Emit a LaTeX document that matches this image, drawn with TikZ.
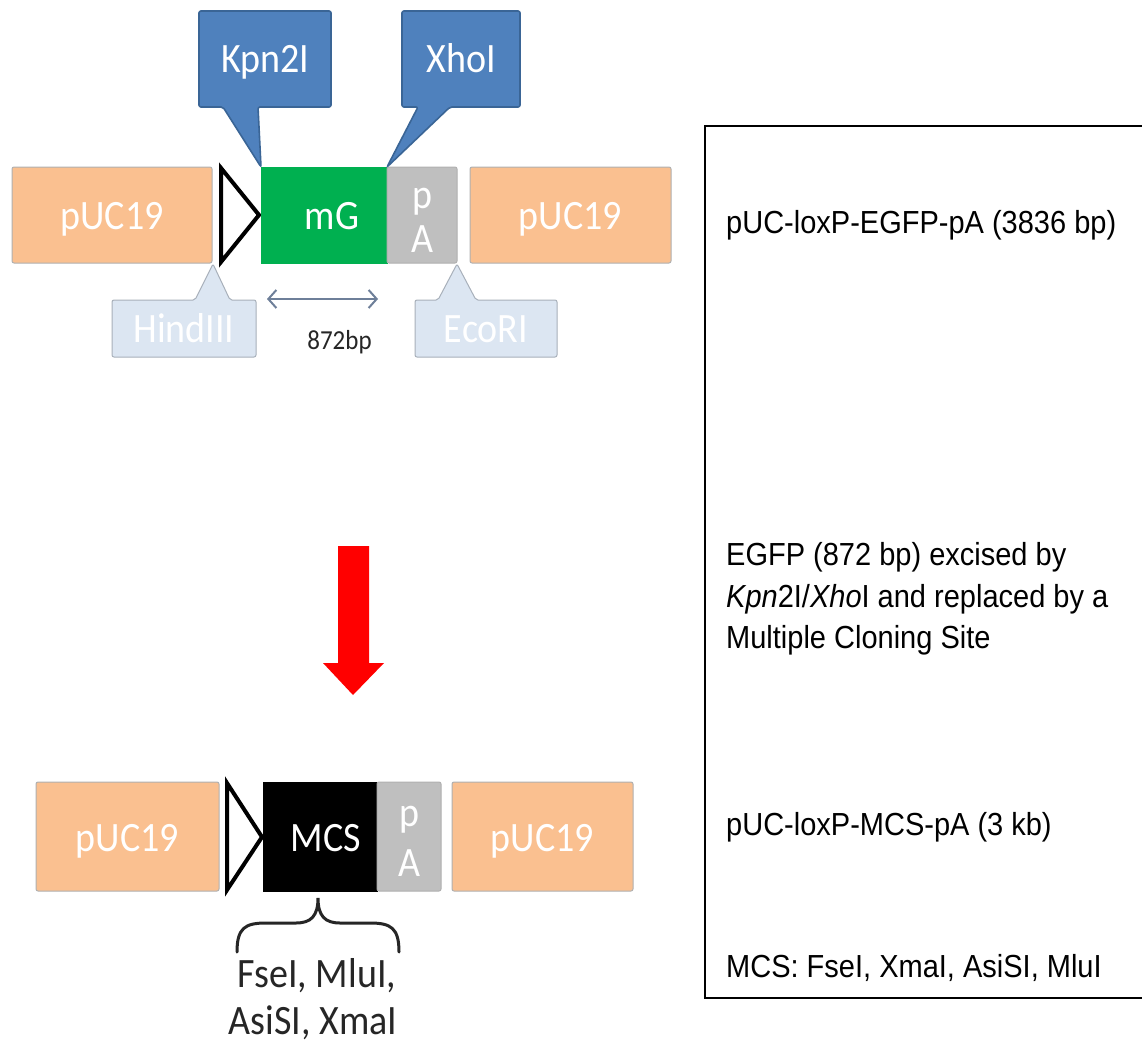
\documentclass[tikz,border=0pt]{standalone}
\usepackage{fontspec}
\usetikzlibrary{arrows.meta}
\newfontfamily\calib{Carlito}
\newfontfamily\arialf{Liberation Sans}
\newcommand{\vstretch}[1]{\scalebox{1}[1.1]{#1}}
\definecolor{pucorange}{HTML}{FAC090}
\definecolor{segline}{HTML}{B0B0B0}
\definecolor{mggreen}{HTML}{00B050}
\definecolor{pagray}{HTML}{BFBFBF}
\definecolor{callblue}{HTML}{4F81BD}
\definecolor{callblueline}{HTML}{3A6596}
\definecolor{calllight}{HTML}{DCE6F2}
\definecolor{calllightline}{HTML}{A8B0BA}
\definecolor{bpgray}{HTML}{6E7F99}
\definecolor{darktext}{HTML}{262626}
\tikzset{
  seg/.style={draw=segline, line width=1pt, rounded corners=2pt, inner sep=0pt},
  pucbox/.style={seg, fill=pucorange},
  calibtxt/.style={font=\calib\fontsize{38}{40}\selectfont, text=white, inner sep=0pt, text height=25.5pt, text depth=0pt},
  loxp/.style={draw=black, fill=white, line width=4pt, line join=miter},
  bluecall/.style={draw=callblueline, fill=callblue, line width=1.6pt, rounded corners=2pt},
  lightcall/.style={draw=calllightline, fill=calllight, line width=1pt, rounded corners=2pt},
  sidetxt/.style={font=\arialf\fontsize{29}{41}\selectfont, text=black, inner sep=0pt, anchor=base west},
  bracetxt/.style={font=\calib\fontsize{38}{50}\selectfont, text=darktext, inner sep=0pt, anchor=base},
}
\begin{document}
\begin{tikzpicture}[x=1pt,y=-1pt]
\useasboundingbox (0,0) rectangle (1142,1046);
\fill[white] (0,0) rectangle (1142,1046);

% ---------- top construct ----------
\node[pucbox, minimum width=200pt, minimum height=96pt] (pucTL) at (112,215) {};
\node[calibtxt] (pucTLt) at (112,217) {\vstretch{pUC19}};
\draw[loxp] (221,168) -- (259,215) -- (221,262) -- cycle;
\node[seg, fill=mggreen, draw=mggreen, rounded corners=0pt, minimum width=126pt, minimum height=96pt] (mg) at (324,215) {};
\node[calibtxt] (mgt) at (332,217) {\vstretch{mG}};
\node[seg, fill=pagray, minimum width=70pt, minimum height=96pt] (paT) at (422,215) {};
\node[calibtxt, text height=, anchor=base] (paTp) at (422,208) {\vstretch{p}};
\node[calibtxt, text height=, anchor=base] (paTa) at (422,252) {\vstretch{A}};
\node[pucbox, minimum width=201pt, minimum height=96pt] (pucTR) at (570.5,215) {};
\node[calibtxt] (pucTRt) at (570.5,217) {\vstretch{pUC19}};

% blue callouts
\draw[bluecall] (199,11) -- (331,11) -- (331,107) -- (258,107) -- (261,167) -- (223,107) -- (199,107) -- cycle;
\node[calibtxt] (kpn) at (265,60) {\vstretch{Kpn2I}};
\draw[bluecall] (402,11) -- (520,11) -- (520,107) -- (450,107) -- (387,167) -- (418,107) -- (402,107) -- cycle;
\node[calibtxt] (xho) at (461,60) {\vstretch{XhoI}};

% light callouts
\draw[lightcall] (112,300) -- (195,300) -- (213,264) -- (230,300) -- (256,300) -- (256,357) -- (112,357) -- cycle;
\node[calibtxt] (hind) at (184,330) {\vstretch{HindIII}};
\draw[lightcall] (415,300) -- (438,300) -- (457,264) -- (476,300) -- (557,300) -- (557,357) -- (415,357) -- cycle;
\node[calibtxt] (eco) at (486,330) {\vstretch{EcoRI}};

% 872 bp
\coordinate (bpL) at (267,299);
\coordinate (bpR) at (378,299);
\draw[bpgray, line width=2pt, {Straight Barb[length=8pt,width=18pt]}-{Straight Barb[length=8pt,width=18pt]}] (bpL) -- (bpR);
\node[font=\calib\fontsize{25}{28}\selectfont, text=darktext, inner sep=0pt, anchor=base] (bp) at (339.5,349) {\vstretch{872bp}};

% ---------- red arrow ----------
\fill[red] (338,546) -- (369,546) -- (369,663) -- (384,663) -- (353,695) -- (323,663) -- (338,663) -- cycle;

% ---------- bottom construct ----------
\node[pucbox, minimum width=183pt, minimum height=109pt] (pucBL) at (127.5,836.5) {};
\node[calibtxt] (pucBLt) at (127.5,839) {\vstretch{pUC19}};
\draw[loxp] (227,783) -- (262,837) -- (227,890) -- cycle;
\node[seg, fill=black, draw=black, rounded corners=0pt, minimum width=114pt, minimum height=109pt] (mcs) at (320,836.5) {};
\node[calibtxt] (mcst) at (326,839) {\vstretch{MCS}};
\node[seg, fill=pagray, minimum width=64pt, minimum height=109pt] (paB) at (409,836.5) {};
\node[calibtxt, text height=, anchor=base] (paBp) at (409,826) {\vstretch{p}};
\node[calibtxt, text height=, anchor=base] (paBa) at (409,876) {\vstretch{A}};
\node[pucbox, minimum width=181pt, minimum height=109pt] (pucBR) at (542.5,836.5) {};
\node[calibtxt] (pucBRt) at (542.5,839) {\vstretch{pUC19}};

% brace
\draw[darktext, line width=3pt, line cap=round]
  (237,952) .. controls (237,928) and (245,923) .. (266,923) -- (296,923)
  .. controls (311,923) and (318,916) .. (318,898)
  .. controls (318,916) and (325,923) .. (340,923) -- (370,923)
  .. controls (391,923) and (399,928) .. (399,952);
\node[bracetxt] (enz1) at (317,987) {\vstretch{FseI, MluI,}};
\node[bracetxt] (enz2) at (313,1034) {\vstretch{AsiSI, XmaI}};

% ---------- right panel ----------
\draw[black, line width=2pt] (1150,126) -- (705,126) -- (705,998) -- (1150,998);
\node[sidetxt] (t1) at (726,233) {\vstretch{pUC-loxP-EGFP-pA (3836 bp)}};
\node[sidetxt] (t2) at (726,565) {\vstretch{EGFP (872 bp) excised by}};
\node[sidetxt] (t3) at (726,607) {\vstretch{\textit{Kpn}2I/\textit{Xho}I and replaced by a}};
\node[sidetxt] (t4) at (726,648) {\vstretch{Multiple Cloning Site}};
\node[sidetxt] (t5) at (726,835) {\vstretch{pUC-loxP-MCS-pA (3 kb)}};
\node[sidetxt] (t6) at (726,977) {\vstretch{MCS: FseI, XmaI, AsiSI, MluI}};
\end{tikzpicture}
\end{document}
